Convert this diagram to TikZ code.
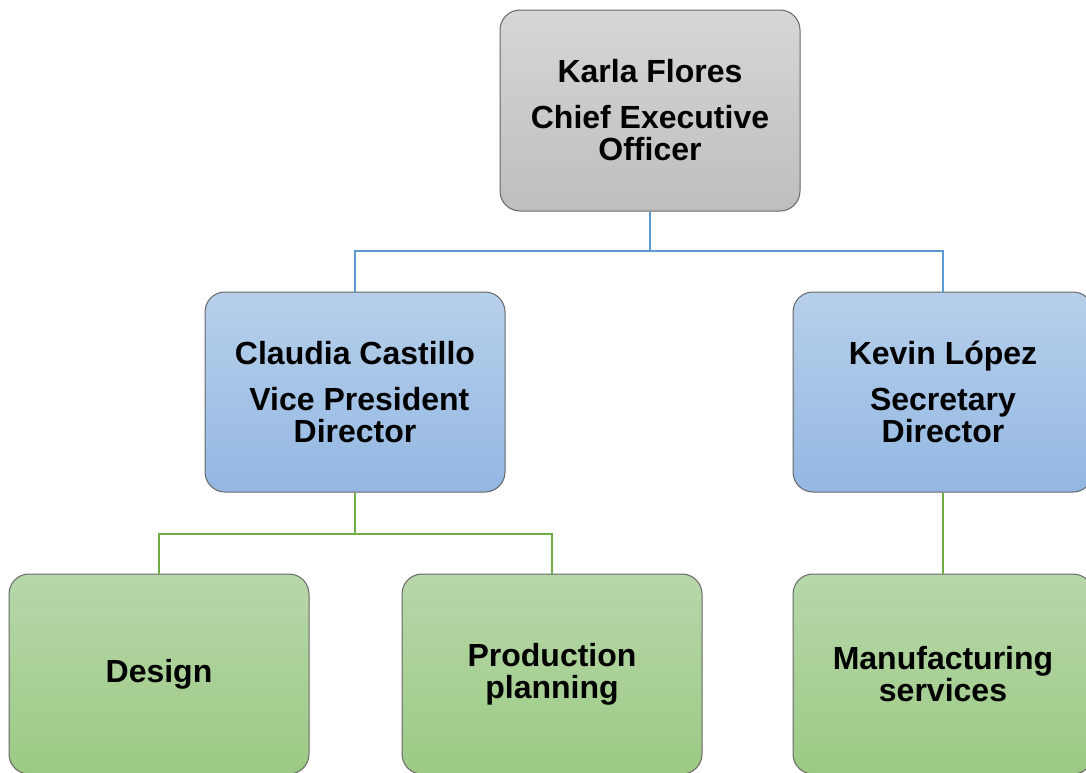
\documentclass[tikz,border=0pt]{standalone}
\usepackage{fontspec}
\setmainfont{Liberation Sans}
\usetikzlibrary{positioning}

\definecolor{grayTop}{HTML}{D6D6D6}
\definecolor{grayBot}{HTML}{BEBEBE}
\definecolor{blueTop}{HTML}{B7D0EB}
\definecolor{blueBot}{HTML}{93B7E2}
\definecolor{greenTop}{HTML}{B7D7AA}
\definecolor{greenBot}{HTML}{9CCA84}
\definecolor{blueLine}{HTML}{5B9BD5}
\definecolor{greenLine}{HTML}{70AD47}

\begin{document}
\begin{tikzpicture}[x=0.5pt, y=-0.5pt]
    \tikzstyle{box} = [draw=black!60, line width=0.5pt, rectangle, rounded corners=10pt,
    minimum width=150pt, minimum height=100pt, align=center,
    font=\fontsize{16}{16}\selectfont\bfseries, inner sep=0pt];
    \tikzstyle{boss} = [box, top color=grayTop, bottom color=grayBot];
    \tikzstyle{head} = [box, top color=blueTop, bottom color=blueBot];
    \tikzstyle{unit} = [box, top color=greenTop, bottom color=greenBot];
    \tikzstyle{bline} = [draw=blueLine, line width=1pt];
    \tikzstyle{gline} = [draw=greenLine, line width=1pt];
    \useasboundingbox (0,0) rectangle (1086,772);
    \node [boss, minimum height=100.5pt] (ceo) at (650,110.5) {Karla Flores\\[7pt] Chief Executive\\ Officer};
    \node [head, below=40pt of ceo, xshift=-147.5pt] (vp) {Claudia Castillo\\[7pt] \ Vice President\\ Director};
    \node [head, right=143.5pt of vp] (sec) {Kevin López\\[7pt] Secretary\\ Director};
    \node [unit, below=40.5pt of vp, xshift=-98pt] (design) {Design};
    \node [unit, right=46pt of design] (prod) {Production\\ planning};
    \node [unit, below=40.5pt of sec] (manu) {Manufacturing\\ services};
    % connectors
    \draw[bline] (ceo.south) -- ++(0,39) -| (vp.north);
    \draw[bline] (ceo.south) -- ++(0,39) -| (sec.north);
    \draw[gline] (vp.south) -- ++(0,41) -| (design.north);
    \draw[gline] (vp.south) -- ++(0,41) -| (prod.north);
    \draw[gline] (sec.south) -- (manu.north);
\end{tikzpicture}
\end{document}
